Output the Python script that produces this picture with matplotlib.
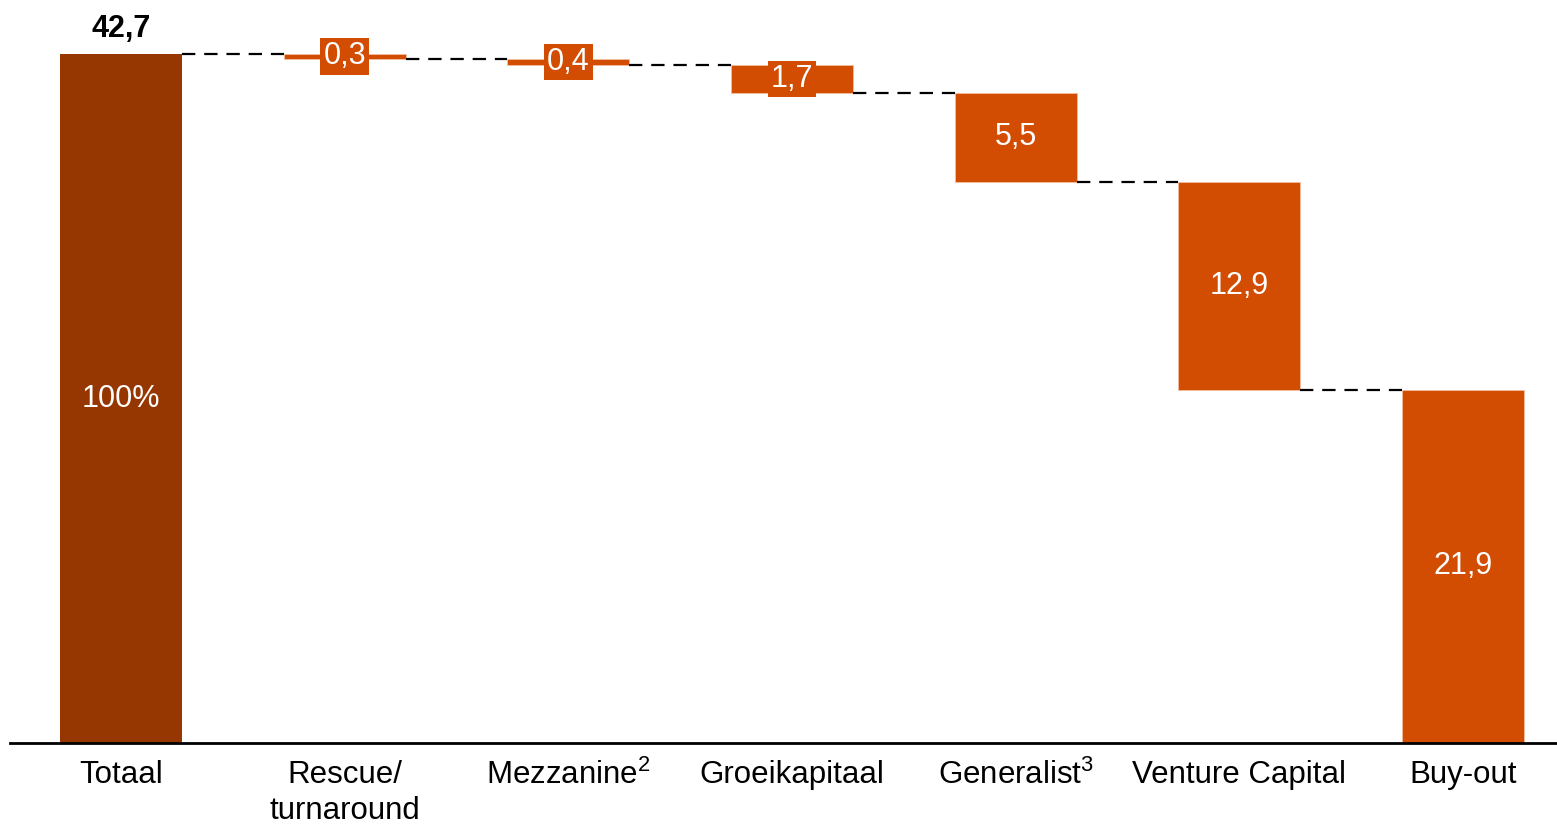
import numpy as np
import matplotlib.pyplot as plt

plt.rcParams['font.family'] = ['Liberation Sans', 'DejaVu Sans']
plt.rcParams['mathtext.fontset'] = 'custom'
plt.rcParams['mathtext.rm'] = 'Liberation Sans'

categories = ["Totaal", "Rescue/\nturnaround", r"Mezzanine$^{\mathrm{2}}$", "Groeikapitaal",
              r"Generalist$^{\mathrm{3}}$", "Venture Capital", "Buy-out"]
total = 42.7
steps = [0.3, 0.4, 1.7, 5.5, 12.9, 21.9]
step_labels = ["0,3", "0,4", "1,7", "5,5", "12,9", "21,9"]

dark = "#963600"
orange = "#D24C02"
width = 0.545

fig = plt.figure(figsize=(15.57, 8.25), dpi=100)
ax = fig.add_axes([10 / 1557, 82 / 825, 1547 / 1557, 743 / 825])

x = np.arange(len(categories))

# total bar
ax.bar(x[0], total, width=width, color=dark, edgecolor="none")
ax.text(x[0], total / 2, "100%", ha="center", va="center", color="white", fontsize=22)
ax.text(x[0], total + 0.6, "42,7", ha="center", va="bottom", color="black",
        fontsize=22, fontweight="bold")

# falling steps
level = total
tops = [total]
for i, (v, lab) in enumerate(zip(steps, step_labels), start=1):
    bottom = level - v
    ax.bar(x[i], v, bottom=bottom, width=width, color=orange,
           edgecolor="#f0c0a0", linewidth=0.6)
    box = None
    if v < 2:
        box = dict(boxstyle="square,pad=0.1", facecolor=orange, edgecolor="none")
    ax.text(x[i], bottom + v / 2, lab, ha="center", va="center", color="white",
            fontsize=22, bbox=box)
    level = bottom
    tops.append(level)

# connectors between bars
for i in range(len(categories) - 1):
    y = tops[i]
    ax.plot([x[i] + width / 2, x[i + 1] - width / 2], [y, y], color="black",
            linewidth=1.6, dashes=(6, 4))

ax.set_xlim(-0.496, 6.42)
ax.set_ylim(0, 46.05)
ax.set_xticks(x)
ax.set_xticklabels(categories, fontsize=22.5, linespacing=1.28)
ax.tick_params(axis="x", length=0, pad=12)
ax.set_yticks([])
for s in ["top", "right", "left"]:
    ax.spines[s].set_visible(False)
ax.spines["bottom"].set_linewidth(2)

fig.savefig("out.png", dpi=100)
